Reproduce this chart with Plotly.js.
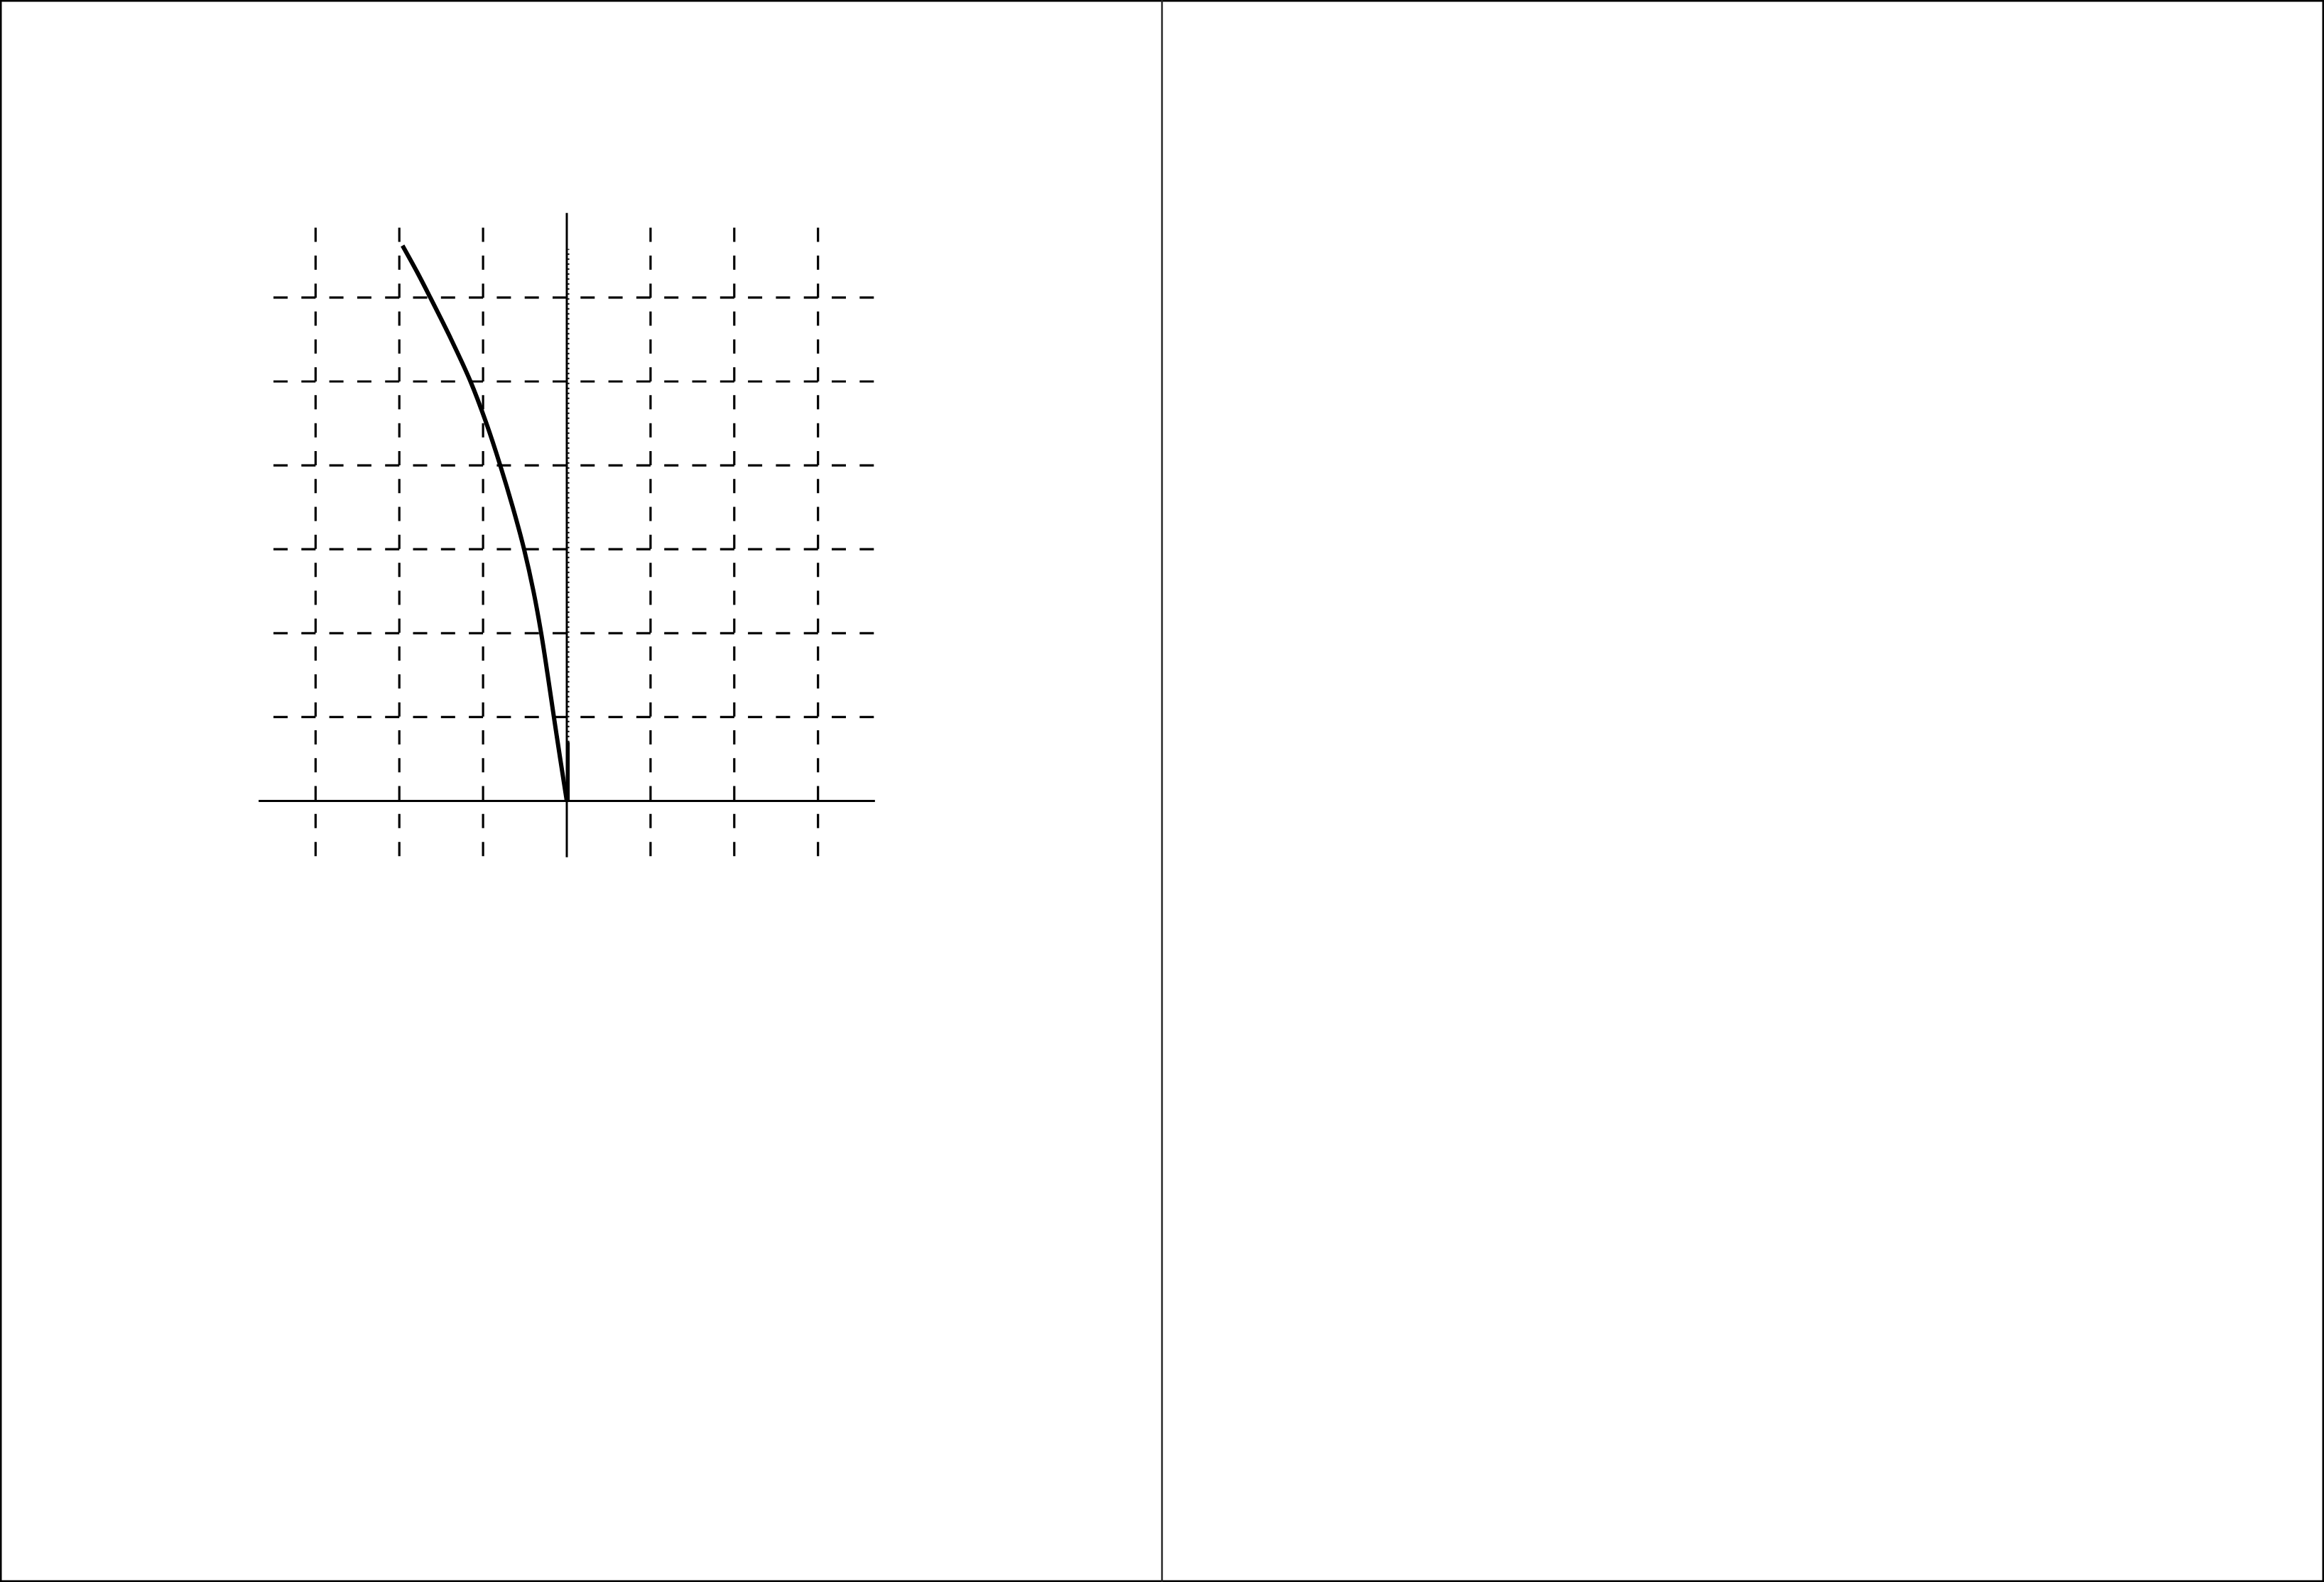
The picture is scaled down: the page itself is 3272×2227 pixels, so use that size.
<!DOCTYPE html>
<html>
<head>
<meta charset="utf-8">
<script src="https://cdn.plot.ly/plotly-3.0.1.min.js"></script>
<style>html,body{margin:0;padding:0;background:#fff;}#chart{width:3272px;height:2227px;}</style>
</head>
<body>
<div id="chart"></div>
<script>
// Curve
var curveY = [0, 0.5, 1, 1.5, 2, 2.5, 3, 3.5, 4, 4.5, 5, 5.5, 6, 6.3, 6.62];
var curveX = [0, -0.078, -0.154, -0.228, -0.306, -0.398, -0.51, -0.645, -0.795, -0.96, -1.15, -1.38, -1.63, -1.785, -1.962];

// Near-axis trace (thick lower part + dotted upper part)
var nearAxisSolidX = [0.02, 0.02];
var nearAxisSolidY = [0, 0.7];
var nearAxisDotX = [0.02, 0.02];
var nearAxisDotY = [0.7, 6.58];

// Grid positions
var gridX = [-3, -2, -1, 1, 2, 3];
var gridY = [1, 2, 3, 4, 5, 6];
var gridXExtent = [-3.503, 3.67];   // horizontal dashed lines span
var gridYExtent = [6.833, -0.66];   // vertical dashed lines span (top -> bottom)
var axisXExtent = [-3.68, 3.68];
var axisYExtent = [-0.67, 7.01];

var shapes = [];
var dashPattern = '20px,19.3px';
gridX.forEach(function (gx) {
  shapes.push({type: 'line', xref: 'x', yref: 'y', x0: gx, x1: gx, y0: gridYExtent[0], y1: gridYExtent[1],
    line: {color: '#000', width: 3.2, dash: dashPattern}});
});
gridY.forEach(function (gy) {
  shapes.push({type: 'line', xref: 'x', yref: 'y', x0: gridXExtent[0], x1: gridXExtent[1], y0: gy, y1: gy,
    line: {color: '#000', width: 3.2, dash: dashPattern}});
});
// axes
shapes.push({type: 'line', xref: 'x', yref: 'y', x0: axisXExtent[0], x1: axisXExtent[1], y0: 0, y1: 0,
  line: {color: '#000', width: 3}});
shapes.push({type: 'line', xref: 'x', yref: 'y', x0: 0, x1: 0, y0: axisYExtent[0], y1: axisYExtent[1],
  line: {color: '#000', width: 3}});
// page borders and divider
shapes.push({type: 'rect', xref: 'paper', yref: 'paper', x0: 0, x1: 1, y0: 0, y1: 1,
  line: {color: '#000', width: 5}});
shapes.push({type: 'line', xref: 'paper', yref: 'paper', x0: 0.5, x1: 0.5, y0: 0, y1: 1,
  line: {color: '#222', width: 2.4}});

var traces = [
  {x: curveX, y: curveY, type: 'scatter', mode: 'lines',
   line: {color: '#000', width: 6, shape: 'spline', smoothing: 1}, hoverinfo: 'skip'},
  {x: nearAxisSolidX, y: nearAxisSolidY, type: 'scatter', mode: 'lines',
   line: {color: '#000', width: 3.5}, hoverinfo: 'skip'},
  {x: nearAxisDotX, y: nearAxisDotY, type: 'scatter', mode: 'lines',
   line: {color: '#000', width: 2.5, dash: '2px,5px'}, hoverinfo: 'skip'}
];

var layout = {
  width: 3272, height: 2227,
  margin: {l: 0, r: 0, t: 0, b: 0, pad: 0},
  paper_bgcolor: '#fff', plot_bgcolor: 'rgba(0,0,0,0)',
  showlegend: false,
  xaxis: {range: [-3.8, 3.8], domain: [0.106968, 0.380807], showgrid: false, zeroline: false,
          showticklabels: false, showline: false, ticks: '', fixedrange: true},
  yaxis: {range: [-1, 7.2], domain: [0.440683, 0.875527], showgrid: false, zeroline: false,
          showticklabels: false, showline: false, ticks: '', fixedrange: true},
  shapes: shapes
};

Plotly.newPlot('chart', traces, layout, {staticPlot: true, displayModeBar: false});
</script>
</body>
</html>
